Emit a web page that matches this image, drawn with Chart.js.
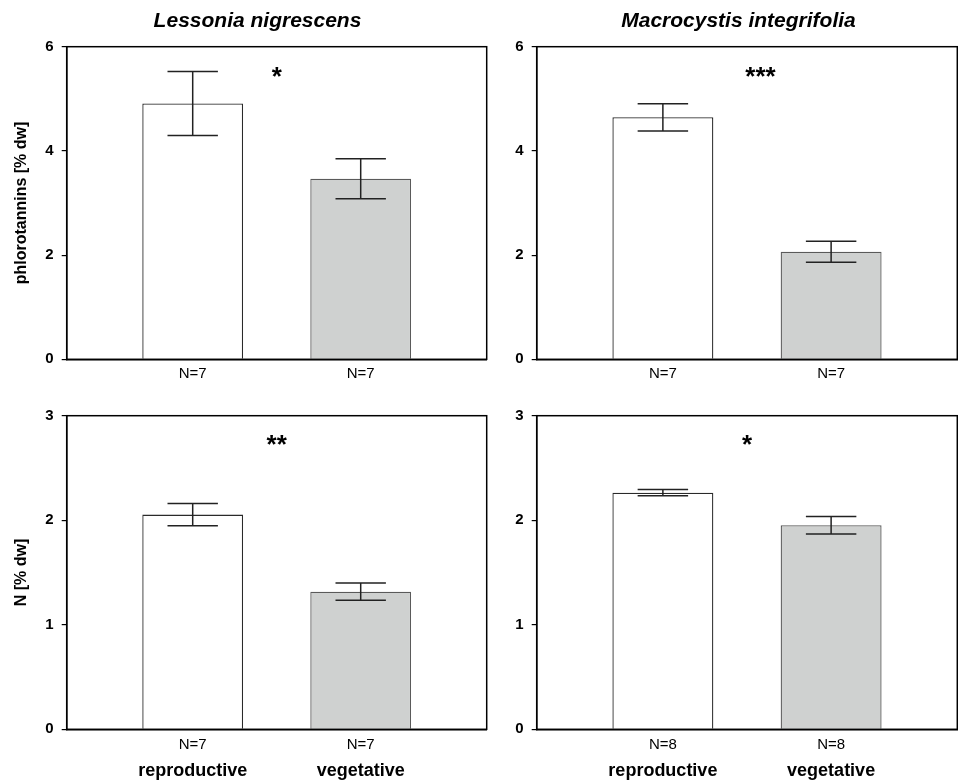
<!DOCTYPE html>
<html>
<head>
<meta charset="utf-8">
<script src="https://cdn.jsdelivr.net/npm/chart.js@4.4.1/dist/chart.umd.min.js"></script>
<style>
  body { margin: 0; background: #fff; overflow: hidden; }
  #wrap { position: relative; width: 958px; height: 780px; background: #fff; }
  canvas { position: absolute; }
</style>
</head>
<body>
<div id="wrap">
  <canvas id="c1" width="490" height="390" style="left:0;top:0"></canvas>
  <canvas id="c2" width="468" height="390" style="left:490px;top:0"></canvas>
  <canvas id="c3" width="490" height="390" style="left:0;top:390px"></canvas>
  <canvas id="c4" width="468" height="390" style="left:490px;top:390px"></canvas>
</div>
<script>
// categories and their slot on the x axis
const categories = ['reproductive', 'vegetative'];
const catPos = [1, 2];

// phlorotannins [% dw], mean and error
const lessoniaPhloro = [4.91, 3.465];
const lessoniaPhloroErr = [0.615, 0.385];
const macroPhloro = [4.645, 2.065];
const macroPhloroErr = [0.262, 0.2];

// N [% dw], mean and error
const lessoniaN = [2.054, 1.317];
const lessoniaNErr = [0.106, 0.083];
const macroN = [2.264, 1.952];
const macroNErr = [0.029, 0.083];

// sample size labels
const lessoniaPhloroN = ['N=7', 'N=7'];
const macroPhloroN = ['N=7', 'N=7'];
const lessoniaNN = ['N=7', 'N=7'];
const macroNN = ['N=8', 'N=8'];

// y ticks
const phloroTicks = [0, 2, 4, 6];
const nTicks = [0, 1, 2, 3];

// significance marks: text, x slot, y value
const sigPhloroL = { text: '*', x: 1.5, y: 5.52 };
const sigPhloroM = { text: '***', x: 1.58, y: 5.52 };
const sigNL = { text: '**', x: 1.5, y: 2.77 };
const sigNM = { text: '*', x: 1.5, y: 2.77 };

const FONT = '"Liberation Sans", Arial, sans-serif';

const deco = {
  id: 'deco',
  afterDatasetsDraw(chart, args, o) {
    const { ctx, chartArea: a, scales: { x, y } } = chart;
    const meta = chart.getDatasetMeta(0);
    const data = chart.data.datasets[0].data;
    ctx.save();
    // error bars
    ctx.strokeStyle = '#222';
    ctx.lineWidth = 1.5;
    o.errors.forEach((e, i) => {
      const px = x.getPixelForValue(data[i].x);
      const top = y.getPixelForValue(data[i].y + e);
      const bot = y.getPixelForValue(data[i].y - e);
      const half = meta.data[i].width * 0.25;
      ctx.beginPath();
      ctx.moveTo(px, top); ctx.lineTo(px, bot);
      ctx.moveTo(px - half, top); ctx.lineTo(px + half, top);
      ctx.moveTo(px - half, bot); ctx.lineTo(px + half, bot);
      ctx.stroke();
    });
    // frame
    ctx.strokeStyle = '#000';
    ctx.lineWidth = 1.5;
    ctx.strokeRect(a.left, a.top, a.width, a.height);
    // significance
    ctx.fillStyle = '#000';
    ctx.font = 'bold 26px ' + FONT;
    ctx.textAlign = 'center';
    ctx.textBaseline = 'alphabetic';
    const m = ctx.measureText(o.sig.text);
    const sy = y.getPixelForValue(o.sig.y) + (m.actualBoundingBoxAscent - m.actualBoundingBoxDescent) / 2;
    ctx.fillText(o.sig.text, x.getPixelForValue(o.sig.x), sy);
    // panel title
    if (o.title) {
      ctx.font = 'italic bold 21px ' + FONT;
      ctx.fillText(o.title, o.titleX, 27);
    }
    ctx.restore();
  }
};

function makePanel(id, means, errors, nLabels, yTicks, sig, opt) {
  const showNames = opt.names;
  const scales = {
    x: {
      type: 'linear', position: 'bottom', weight: 0,
      min: 0.25, max: 2.75, offset: false,
      afterBuildTicks: s => { s.ticks = catPos.map(v => ({ value: v })); },
      afterFit: s => { s.height = opt.xh; },
      grid: { display: false, drawTicks: false },
      border: { display: true, color: '#000', width: 1.5 },
      ticks: {
        padding: opt.xpad, color: '#000', maxRotation: 0, autoSkip: false,
        font: { family: FONT, size: 15 },
        callback: (v, i) => nLabels[i]
      }
    },
    y: {
      min: yTicks[0], max: yTicks[yTicks.length - 1],
      afterBuildTicks: s => { s.ticks = yTicks.map(v => ({ value: v })); },
      afterFit: s => { s.width = opt.yw; },
      grid: { drawOnChartArea: false, tickLength: 5, color: '#000', lineWidth: 1.2 },
      border: { color: '#000', width: 1.5 },
      ticks: { padding: 8, color: '#000', font: { family: FONT, size: 15, weight: 'bold' } },
      title: {
        display: !!opt.yTitle, text: opt.yTitle || '', color: '#000',
        padding: { top: 12, bottom: 0 },
        font: { family: FONT, size: 16, weight: 'bold' }
      }
    }
  };
  if (showNames) {
    scales.x2 = {
      type: 'linear', position: 'bottom', weight: 1,
      min: 0.25, max: 2.75, offset: false,
      afterBuildTicks: s => { s.ticks = catPos.map(v => ({ value: v })); },
      afterFit: s => { s.height = opt.x2h; },
      grid: { display: false, drawTicks: false },
      border: { display: false },
      ticks: {
        padding: 1, color: '#000', maxRotation: 0, autoSkip: false,
        font: { family: FONT, size: 18, weight: 'bold' },
        callback: (v, i) => categories[i]
      }
    };
  }
  return new Chart(document.getElementById(id), {
    type: 'bar',
    data: {
      datasets: [{
        xAxisID: 'x',
        data: means.map((m, i) => ({ x: catPos[i], y: m })),
        backgroundColor: ['#ffffff', '#cfd1d0'],
        borderColor: ['#2a2a2a', '#5a5a5a'],
        borderWidth: 1.3,
        categoryPercentage: 1,
        barPercentage: 0.6
      }]
    },
    options: {
      responsive: false,
      animation: false,
      layout: { padding: opt.pad },
      scales,
      plugins: {
        legend: { display: false },
        tooltip: { enabled: false },
        deco: { errors, sig, title: opt.title, titleX: opt.titleX }
      }
    },
    plugins: [deco]
  });
}

makePanel('c1', lessoniaPhloro, lessoniaPhloroErr, lessoniaPhloroN, phloroTicks, sigPhloroL, {
  yTitle: 'phlorotannins [% dw]', title: 'Lessonia nigrescens', titleX: 257.5,
  yw: 66.7, xh: 30.7, xpad: 6, pad: { top: 46.7, right: 3.3, bottom: 0, left: 0 }
});
makePanel('c2', macroPhloro, macroPhloroErr, macroPhloroN, phloroTicks, sigPhloroM, {
  title: 'Macrocystis integrifolia', titleX: 248.5,
  yw: 46.7, xh: 30.7, xpad: 6, pad: { top: 46.7, right: 0.7, bottom: 0, left: 0 }
});
makePanel('c3', lessoniaN, lessoniaNErr, lessoniaNN, nTicks, sigNL, {
  yTitle: 'N [% dw]', names: true,
  yw: 66.7, xh: 30, x2h: 20.7, xpad: 7, pad: { top: 25.7, right: 3.3, bottom: 0, left: 0 }
});
makePanel('c4', macroN, macroNErr, macroNN, nTicks, sigNM, {
  names: true,
  yw: 46.7, xh: 30, x2h: 20.7, xpad: 7, pad: { top: 25.7, right: 0.7, bottom: 0, left: 0 }
});
</script>
</body>
</html>
